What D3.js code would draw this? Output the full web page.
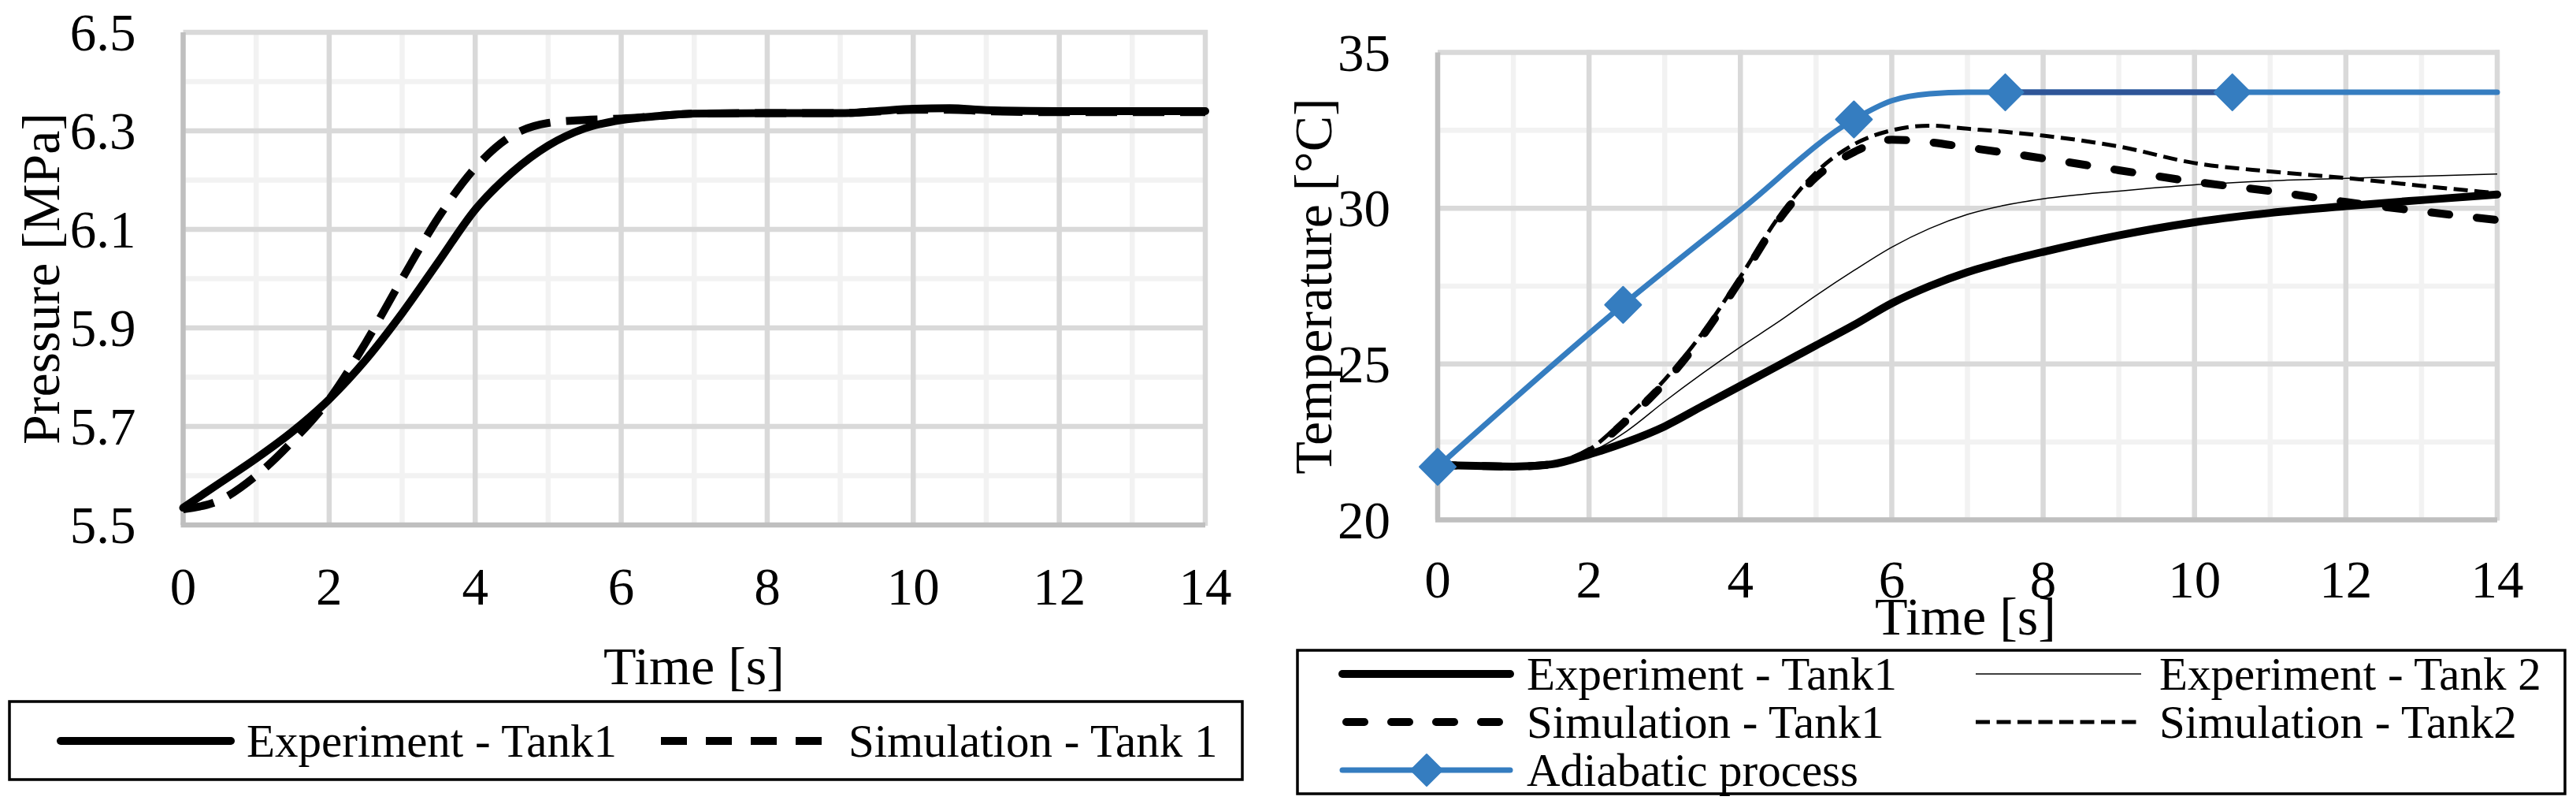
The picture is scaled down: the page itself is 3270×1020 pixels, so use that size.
<!DOCTYPE html>
<html>
<head>
<meta charset="utf-8">
<script src="https://cdn.jsdelivr.net/npm/d3@7"></script>
<style>
  html, body { margin: 0; padding: 0; background: #fff; }
  svg { display: block; }
  text { font-family: "Liberation Serif", "Times New Roman", serif; fill: #000; }
</style>
</head>
<body>
<svg id="chart" width="3270" height="1020"></svg>
<script>
// ---------------- DATA ----------------
// Left panel: pressure
const pressureTime = [0, 0.5, 1, 1.5, 2, 2.5, 3, 3.5, 4, 4.5, 5, 5.5, 6, 6.5, 7, 8, 9, 9.5, 10, 10.5, 11, 12, 13, 14];
const pressureExperimentTank1 = [5.535, 5.585, 5.635, 5.69, 5.755, 5.835, 5.93, 6.035, 6.14, 6.215, 6.27, 6.305, 6.322, 6.33, 6.335, 6.336, 6.336, 6.34, 6.345, 6.346, 6.342, 6.34, 6.34, 6.34];
const pressureSimulationTank1 = [5.532, 5.55, 5.6, 5.67, 5.755, 5.87, 6.0, 6.125, 6.225, 6.29, 6.316, 6.322, 6.325, 6.33, 6.335, 6.336, 6.336, 6.339, 6.343, 6.343, 6.34, 6.338, 6.338, 6.338];

// Right panel: temperature
const tempTime = [0, 0.5, 1, 1.5, 2, 2.5, 3, 3.5, 4, 4.5, 5, 5.5, 6, 6.5, 7, 7.5, 8, 9, 10, 11, 12, 13, 14];
const tempExperimentTank1 = [21.76, 21.73, 21.71, 21.78, 22.1, 22.5, 23.0, 23.65, 24.3, 24.95, 25.6, 26.25, 26.95, 27.5, 27.95, 28.3, 28.6, 29.13, 29.55, 29.85, 30.07, 30.26, 30.44];
const tempExperimentTank2 = [21.76, 21.73, 21.71, 21.78, 22.15, 22.85, 23.8, 24.7, 25.55, 26.35, 27.2, 28.0, 28.75, 29.35, 29.8, 30.1, 30.3, 30.55, 30.75, 30.88, 30.96, 31.03, 31.1];
const tempSimulationTank1 = [21.76, 21.73, 21.71, 21.78, 22.2, 23.2, 24.4, 25.9, 27.7, 29.6, 31.0, 31.8, 32.2, 32.12, 31.95, 31.78, 31.6, 31.22, 30.85, 30.55, 30.2, 29.9, 29.62];
const tempSimulationTank2 = [21.76, 21.73, 21.71, 21.78, 22.25, 23.3, 24.5, 26.0, 27.8, 29.7, 31.15, 32.05, 32.5, 32.65, 32.55, 32.45, 32.33, 31.98, 31.45, 31.18, 30.97, 30.72, 30.48];
const adiabaticTime = [0, 2.45, 4, 5.5, 6, 6.5, 7, 7.5, 8, 9, 10, 10.5, 11, 12, 13, 14];
const adiabaticProcess = [21.7, 26.9, 29.93, 32.85, 33.45, 33.67, 33.72, 33.72, 33.72, 33.72, 33.72, 33.72, 33.72, 33.72, 33.72, 33.72];
const adiabaticMarkerTime = [0, 2.45, 5.5, 7.5, 10.5];
const adiabaticMarkerValue = [21.7, 26.9, 32.85, 33.72, 33.72];

// Tick labels
const timeTicks = [0, 2, 4, 6, 8, 10, 12, 14];
const pressureTicks = [5.5, 5.7, 5.9, 6.1, 6.3, 6.5];
const temperatureTicks = [20, 25, 30, 35];

// Text
const pressureLegend = ["Experiment - Tank1", "Simulation - Tank 1"];
const temperatureLegend = ["Experiment - Tank1", "Experiment - Tank 2", "Simulation - Tank1", "Simulation - Tank2", "Adiabatic process"];

// ---------------- DRAWING ----------------
const svg = d3.select("#chart");
svg.append("rect").attr("width", 3270).attr("height", 1020).attr("fill", "#fff");

const BLUE = "#357dc0", DARKBLUE = "#2f5597";
const TICK_FONT = 67, TITLE_FONT = 68, LEGEND_FONT = 59;

function drawFrame(cfg) {
  const g = svg.append("g");
  const x = d3.scaleLinear().domain([0, 14]).range([cfg.x0, cfg.x1]);
  const y = d3.scaleLinear().domain(cfg.yDomain).range([cfg.yBot, cfg.yTop]);

  const xMinor = d3.range(0, 14.001, 1).filter(v => v % 2 !== 0);
  // minor grid
  g.selectAll(".vminor").data(xMinor).join("line")
    .attr("x1", d => x(d)).attr("x2", d => x(d))
    .attr("y1", cfg.yTop).attr("y2", cfg.yBot)
    .attr("stroke", "#f2f2f2").attr("stroke-width", 6.5);
  g.selectAll(".hminor").data(cfg.yMinor).join("line")
    .attr("x1", cfg.x0).attr("x2", cfg.x1)
    .attr("y1", d => y(d)).attr("y2", d => y(d))
    .attr("stroke", "#f2f2f2").attr("stroke-width", 6.5);
  // major grid
  g.selectAll(".vmajor").data(timeTicks.slice(1)).join("line")
    .attr("x1", d => x(d)).attr("x2", d => x(d))
    .attr("y1", cfg.yTop - 3).attr("y2", cfg.yBot + 1)
    .attr("stroke", "#d9d9d9").attr("stroke-width", 6.5);
  g.selectAll(".hmajor").data(cfg.yTicks.slice(1)).join("line")
    .attr("x1", cfg.x0).attr("x2", cfg.x1 + 3)
    .attr("y1", d => y(d)).attr("y2", d => y(d))
    .attr("stroke", "#d9d9d9").attr("stroke-width", 6.5);
  // axes lines
  g.append("line").attr("x1", cfg.x0).attr("x2", cfg.x0)
    .attr("y1", cfg.yTop).attr("y2", cfg.yBot)
    .attr("stroke", "#bfbfbf").attr("stroke-width", 6.5);
  g.append("line").attr("x1", cfg.x0 - 3).attr("x2", cfg.x1)
    .attr("y1", cfg.yBot).attr("y2", cfg.yBot)
    .attr("stroke", "#bfbfbf").attr("stroke-width", 6.5);

  // tick labels
  g.selectAll(".ylab").data(cfg.yTicks).join("text")
    .attr("x", cfg.x0 - 60).attr("y", d => y(d) + 23)
    .attr("text-anchor", "end").attr("font-size", TICK_FONT)
    .text(cfg.yFormat);
  g.selectAll(".xlab").data(timeTicks).join("text")
    .attr("x", d => x(d)).attr("y", cfg.xLabelBase)
    .attr("text-anchor", "middle").attr("font-size", TICK_FONT)
    .text(d => d);

  // titles
  g.append("text").attr("transform", `translate(${cfg.yTitleX},${(cfg.yTop + cfg.yBot) / 2}) rotate(-90)`)
    .attr("text-anchor", "middle").attr("font-size", TITLE_FONT).text(cfg.yTitle);
  g.append("text").attr("x", cfg.xTitleX).attr("y", cfg.xTitleY)
    .attr("text-anchor", "middle").attr("font-size", TITLE_FONT).text("Time [s]");
  return { x, y, g };
}

// ----- Left panel -----
const L = drawFrame({
  x0: 232.5, x1: 1530, yTop: 41, yBot: 666, yDomain: [5.5, 6.5],
  yTicks: pressureTicks, yMinor: [5.6, 5.8, 6.0, 6.2, 6.4],
  yFormat: d => d.toFixed(1), xLabelBase: 767,
  yTitle: "Pressure [MPa]", yTitleX: 75, xTitleX: 881, xTitleY: 868
});
const lineP = (tArr) => d3.line().x((d, i) => L.x(tArr[i])).y(d => L.y(d)).curve(d3.curveMonotoneX);
L.g.append("path").datum(pressureSimulationTank1).attr("d", lineP(pressureTime))
  .attr("fill", "none").attr("stroke", "#000").attr("stroke-width", 10)
  .attr("stroke-dasharray", "40,20");
L.g.append("path").datum(pressureExperimentTank1).attr("d", lineP(pressureTime))
  .attr("fill", "none").attr("stroke", "#000").attr("stroke-width", 10)
  .attr("stroke-linecap", "round").attr("stroke-linejoin", "round");

// Left legend
const lg = svg.append("g");
lg.append("rect").attr("x", 12).attr("y", 890).attr("width", 1565).attr("height", 99)
  .attr("fill", "#fff").attr("stroke", "#000").attr("stroke-width", 3.5);
lg.append("line").attr("x1", 77).attr("x2", 293).attr("y1", 940).attr("y2", 940)
  .attr("stroke", "#000").attr("stroke-width", 10).attr("stroke-linecap", "round");
lg.append("text").attr("x", 313).attr("y", 960).attr("font-size", LEGEND_FONT).text(pressureLegend[0]);
lg.append("line").attr("x1", 839).attr("x2", 1053).attr("y1", 940).attr("y2", 940)
  .attr("stroke", "#000").attr("stroke-width", 10).attr("stroke-dasharray", "33,24");
lg.append("text").attr("x", 1077).attr("y", 960).attr("font-size", LEGEND_FONT).text(pressureLegend[1]);

// ----- Right panel -----
const R = drawFrame({
  x0: 1825, x1: 3170, yTop: 66.5, yBot: 659.5, yDomain: [20, 35],
  yTicks: temperatureTicks, yMinor: [22.5, 27.5, 32.5],
  yFormat: d => d, xLabelBase: 758,
  yTitle: "Temperature [°C]", yTitleX: 1690, xTitleX: 2495, xTitleY: 805
});
const lineT = (tArr) => d3.line().x((d, i) => R.x(tArr[i])).y(d => R.y(d)).curve(d3.curveMonotoneX);
R.g.append("path").datum(tempExperimentTank2).attr("d", lineT(tempTime))
  .attr("fill", "none").attr("stroke", "#000").attr("stroke-width", 1.5);
R.g.append("path").datum(tempSimulationTank2).attr("d", lineT(tempTime))
  .attr("fill", "none").attr("stroke", "#000").attr("stroke-width", 5)
  .attr("stroke-dasharray", "18,8.5");
R.g.append("path").datum(tempSimulationTank1).attr("d", lineT(tempTime))
  .attr("fill", "none").attr("stroke", "#000").attr("stroke-width", 10)
  .attr("stroke-dasharray", "23,35").attr("stroke-linecap", "round");
R.g.append("path").datum(tempExperimentTank1).attr("d", lineT(tempTime))
  .attr("fill", "none").attr("stroke", "#000").attr("stroke-width", 10)
  .attr("stroke-linecap", "round").attr("stroke-linejoin", "round");
R.g.append("path").datum(adiabaticProcess).attr("d", lineT(adiabaticTime))
  .attr("fill", "none").attr("stroke", BLUE).attr("stroke-width", 7)
  .attr("stroke-linecap", "round").attr("stroke-linejoin", "round");
// segment between the 4th and 5th markers drawn in a darker blue (as in the reference)
const segIdx = adiabaticTime.map((t, i) => i).filter(i => adiabaticTime[i] >= adiabaticMarkerTime[3] && adiabaticTime[i] <= adiabaticMarkerTime[4]);
R.g.append("path").datum(segIdx).attr("d", d3.line().x(i => R.x(adiabaticTime[i])).y(i => R.y(adiabaticProcess[i])))
  .attr("fill", "none").attr("stroke", DARKBLUE).attr("stroke-width", 7);
const diamond = (cx, cy, r) => `M${cx},${cy - r}L${cx + r},${cy}L${cx},${cy + r}L${cx - r},${cy}Z`;
R.g.selectAll(".mk").data(adiabaticMarkerValue).join("path")
  .attr("d", (d, i) => diamond(R.x(adiabaticMarkerTime[i]), R.y(d), 23))
  .attr("fill", BLUE).attr("stroke", BLUE).attr("stroke-width", 2).attr("stroke-linejoin", "round");

// Right legend
const rg = svg.append("g");
rg.append("rect").attr("x", 1647).attr("y", 825).attr("width", 1609).attr("height", 182)
  .attr("fill", "#fff").attr("stroke", "#000").attr("stroke-width", 3.5);
const rowY = [855, 916, 977];
// col1
rg.append("line").attr("x1", 1704).attr("x2", 1917).attr("y1", rowY[0]).attr("y2", rowY[0])
  .attr("stroke", "#000").attr("stroke-width", 10).attr("stroke-linecap", "round");
rg.append("line").attr("x1", 1709).attr("x2", 1917).attr("y1", rowY[1]).attr("y2", rowY[1])
  .attr("stroke", "#000").attr("stroke-width", 10).attr("stroke-dasharray", "23,34").attr("stroke-linecap", "round");
rg.append("line").attr("x1", 1704).attr("x2", 1917).attr("y1", rowY[2]).attr("y2", rowY[2])
  .attr("stroke", BLUE).attr("stroke-width", 7).attr("stroke-linecap", "round");
rg.append("path").attr("d", diamond(1811, rowY[2], 20)).attr("fill", BLUE)
  .attr("stroke", BLUE).attr("stroke-width", 2).attr("stroke-linejoin", "round");
// col2
rg.append("line").attr("x1", 2508).attr("x2", 2718).attr("y1", rowY[0]).attr("y2", rowY[0])
  .attr("stroke", "#000").attr("stroke-width", 1.5);
rg.append("line").attr("x1", 2508).attr("x2", 2718).attr("y1", rowY[1]).attr("y2", rowY[1])
  .attr("stroke", "#000").attr("stroke-width", 5).attr("stroke-dasharray", "18,8.5");
const legPos = [[1938, rowY[0]], [2741, rowY[0]], [1938, rowY[1]], [2741, rowY[1]], [1938, rowY[2]]];
rg.selectAll(".lt").data(temperatureLegend).join("text")
  .attr("x", (d, i) => legPos[i][0]).attr("y", (d, i) => legPos[i][1] + 19.5)
  .attr("font-size", LEGEND_FONT).text(d => d);
</script>
</body>
</html>
